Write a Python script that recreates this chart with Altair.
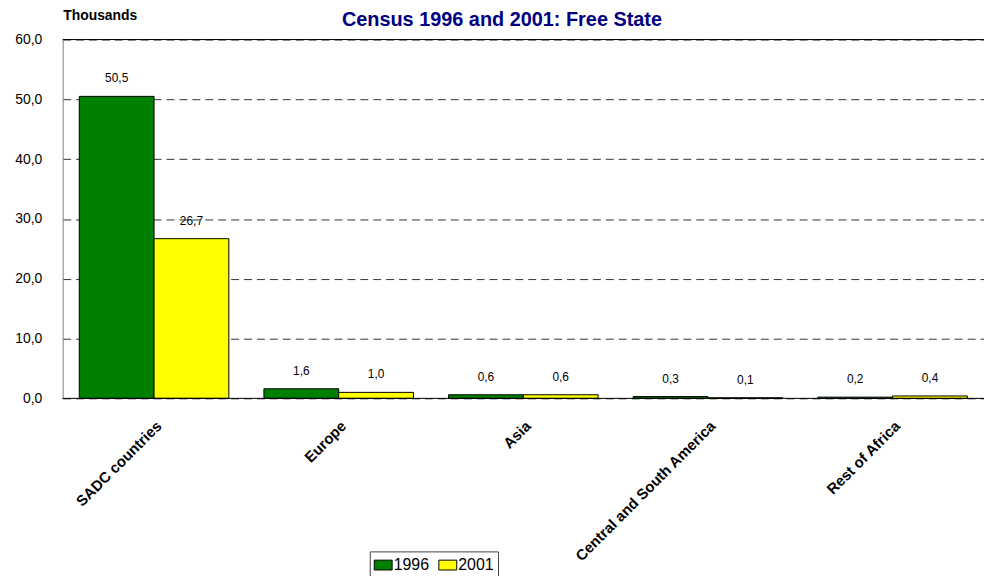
import altair as alt
import pandas as pd

title_text = "Census 1996 and 2001: Free State"
categories = ["SADC countries", "Europe", "Asia", "Central and South America", "Rest of Africa"]
values_1996 = [50.5, 1.6, 0.6, 0.3, 0.2]
values_2001 = [26.7, 1.0, 0.6, 0.1, 0.4]
years = ["1996", "2001"]
colors = ["#008000", "#FFFF00"]
y_ticks = [0, 10, 20, 30, 40, 50, 60]

rows = []
for c, a, b in zip(categories, values_1996, values_2001):
    rows.append({"region": c, "year": years[0], "value": a})
    rows.append({"region": c, "year": years[1], "value": b})
df = pd.DataFrame(rows)
df["label"] = df["value"].map(lambda v: f"{v:.1f}".replace(".", ","))

FONT = "Liberation Sans"

x = alt.X("region:N", sort=categories,
          scale=alt.Scale(paddingInner=0.19, paddingOuter=0.09),
          axis=alt.Axis(title=None, labelAngle=-45, labelFontWeight="bold", labelFontSize=15,
                        labelFont=FONT, labelColor="black", domain=False, ticks=False,
                        labelPadding=20, labelLimit=400))
y = alt.Y("value:Q", scale=alt.Scale(domain=[0, 60]),
          axis=alt.Axis(values=y_ticks,
                        labelExpr="replace(format(datum.value, '.1f'), '.', ',')",
                        title="Thousands", titleAngle=0, titleX=0, titleY=-20,
                        titleAlign="left", titleBaseline="alphabetic", titleFontSize=14,
                        titleFont=FONT, titleFontWeight="bold", titleColor="black",
                        labelFontSize=14, labelFont=FONT, labelPadding=21, ticks=False,
                        labelColor="black", domainColor="#808080", grid=True,
                        gridDash=[8, 5], gridColor="black", gridOpacity=0.8))

base = alt.Chart(df)

bars = base.mark_bar(stroke="black", strokeWidth=1).encode(
    x=x, y=y,
    xOffset=alt.XOffset("year:N", sort=years),
    color=alt.Color("year:N", scale=alt.Scale(domain=years, range=colors),
                    legend=alt.Legend(orient="none", legendX=309, legendY=515,
                                      direction="horizontal", title=None,
                                      strokeColor="#444444", fillColor="white", padding=4,
                                      symbolType="M-1,-0.55H1V0.55H-1Z", symbolSize=324,
                                      symbolStrokeColor="black", symbolStrokeWidth=1,
                                      labelFontSize=16, labelFont=FONT, labelColor="black",
                                      labelOffset=1, columnPadding=7)),
)

texts = base.mark_text(baseline="bottom", dy=-11, fontSize=12, font=FONT, color="black").encode(
    x=x, y=y,
    xOffset=alt.XOffset("year:N", sort=years),
    text="label:N",
)

rules = alt.Chart(pd.DataFrame({"value": [0, 60]})).mark_rule(color="black", strokeWidth=1).encode(
    y=alt.Y("value:Q")
)

title_mark = alt.Chart(pd.DataFrame({"t": [title_text]})).mark_text(
    fontSize=20, font=FONT, fontWeight="bold", color="#000080",
    align="center", baseline="alphabetic"
).encode(x=alt.value(442), y=alt.value(-14), text="t:N")

chart = alt.layer(bars, rules, texts, title_mark).properties(
    width=927, height=361,
    padding={"left": 55, "top": 30, "right": 0, "bottom": 177},
    autosize=alt.AutoSizeParams(type="none"),
).configure_view(stroke=None)

chart.save("out.html", embed_options={"renderer": "svg", "actions": False})
